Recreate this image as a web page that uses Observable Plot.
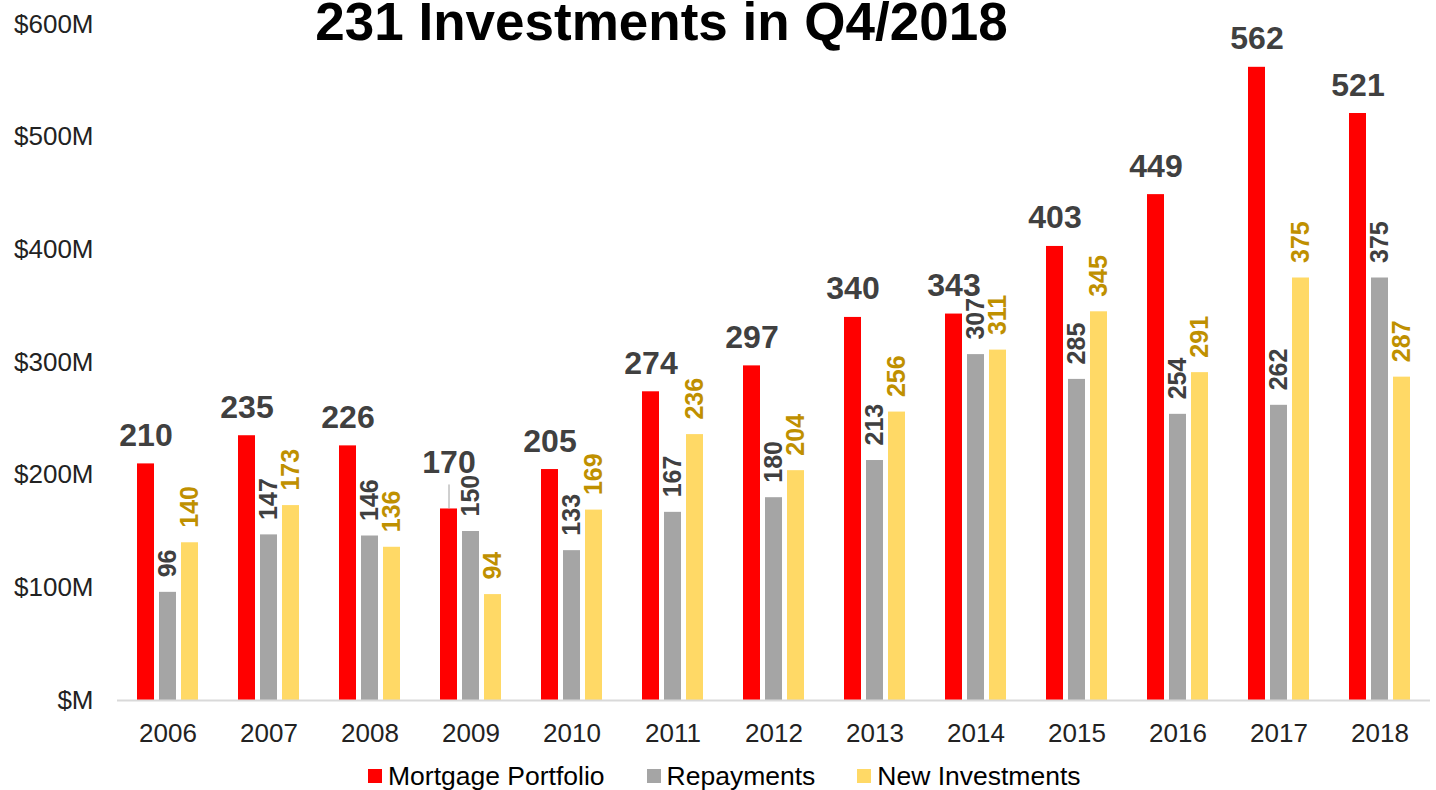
<!DOCTYPE html>
<html>
<head>
<meta charset="utf-8">
<script src="https://cdn.jsdelivr.net/npm/d3@7"></script>
<script src="https://cdn.jsdelivr.net/npm/@observablehq/plot@0.6"></script>
<style>
  html, body { margin: 0; padding: 0; background: #fff; }
  body { width: 1436px; height: 790px; position: relative; overflow: hidden; font-family: "Liberation Sans", Arial, sans-serif; }
  #title { position: absolute; left: 0; width: 1323px; top: 1px; text-align: center; font-size: 53px; font-weight: bold; line-height: 41px; color: #000; white-space: nowrap; }
  #chart { position: absolute; left: 0; top: 0; }
  #legend { position: absolute; left: 368px; top: 761px; height: 30px; display: flex; justify-content: flex-start; align-items: center; font-size: 26.5px; line-height: 30px; color: #000; white-space: nowrap; }
  .item { display: flex; align-items: center; margin-right: 42px; }
  .sw { width: 14px; height: 14px; margin-right: 6px; }
</style>
</head>
<body>
<div id="chart"></div>
<div id="title">231 Investments in Q4/2018</div>
<div id="legend"></div>
<script>
const years = ["2006","2007","2008","2009","2010","2011","2012","2013","2014","2015","2016","2017","2018"];
const seriesNames = ["Mortgage Portfolio", "Repayments", "New Investments"];
const mortgagePortfolio = [210, 235, 226, 170, 205, 274, 297, 340, 343, 403, 449, 562, 521];
const repayments = [96, 147, 146, 150, 133, 167, 180, 213, 307, 285, 254, 262, 375];
const newInvestments = [140, 173, 136, 94, 169, 236, 204, 256, 311, 345, 291, 375, 287];
const yTicks = [0, 100, 200, 300, 400, 500, 600];
const seriesColors = ["#FF0000", "#A5A5A5", "#FFD966"];
const liftedYear = "2009";

const seriesValues = [mortgagePortfolio, repayments, newInvestments];
const data = [];
years.forEach((yr, i) => {
  seriesNames.forEach((s, j) => data.push({year: yr, series: s, value: seriesValues[j][i]}));
});

const red = d => d.series === seriesNames[0];
const font = "'Liberation Sans', Arial, sans-serif";

const chart = Plot.plot({
  width: 1436,
  height: 760,
  marginLeft: 117,
  marginRight: 6,
  marginTop: 24,
  marginBottom: 60,
  style: {fontFamily: font, fontSize: "26px", color: "#222", background: "#fff", overflow: "visible"},
  fx: {domain: years, padding: 0, axis: "bottom", label: null, tickSize: 0, tickPadding: 23},
  x: {domain: seriesNames, axis: null, paddingInner: 0.207, paddingOuter: 0.878},
  y: {domain: [0, 600], ticks: yTicks, tickFormat: d => `$${d === 0 ? "" : d}M`, tickSize: 0, tickPadding: 24, label: null, grid: false},
  color: {domain: seriesNames, range: seriesColors},
  marks: [
    Plot.barY(data, {fx: "year", x: "series", y: "value", fill: "series"}),
    Plot.ruleY([0], {stroke: "#D9D9D9", strokeWidth: 2}),
    // red labels (horizontal, above bar)
    Plot.text(data, {filter: d => red(d) && d.year !== liftedYear, fx: "year", x: "series", y: "value", text: d => String(d.value),
      lineAnchor: "bottom", dy: -18, fontSize: 32, fontWeight: "bold", fill: "#404040"}),
    Plot.text(data, {filter: d => red(d) && d.year === liftedYear, fx: "year", x: "series", y: "value", text: d => String(d.value),
      lineAnchor: "bottom", dy: -36, fontSize: 32, fontWeight: "bold", fill: "#404040"}),
    Plot.ruleX(data, {filter: d => red(d) && d.year === liftedYear, fx: "year", x: "series", y1: "value", y2: "value",
      insetTop: -24, stroke: "#A0A0A0", strokeWidth: 1}),
    // repayments labels (rotated)
    Plot.text(data, {filter: d => d.series === seriesNames[1], fx: "year", x: "series", y: "value", text: d => String(d.value),
      rotate: -90, textAnchor: "start", lineAnchor: "middle", dy: -15, fontSize: 25, fontWeight: "bold", fill: "#404040"}),
    // new investments labels (rotated)
    Plot.text(data, {filter: d => d.series === seriesNames[2], fx: "year", x: "series", y: "value", text: d => String(d.value),
      rotate: -90, textAnchor: "start", lineAnchor: "middle", dy: -15, fontSize: 25, fontWeight: "bold", fill: "#BF9000"})
  ]
});
document.getElementById("chart").appendChild(chart);

const legend = document.getElementById("legend");
seriesNames.forEach((s, j) => {
  const item = document.createElement("div");
  item.className = "item";
  const sw = document.createElement("div");
  sw.className = "sw";
  sw.style.background = seriesColors[j];
  const lab = document.createElement("span");
  lab.textContent = s;
  item.appendChild(sw);
  item.appendChild(lab);
  legend.appendChild(item);
});
</script>
</body>
</html>
